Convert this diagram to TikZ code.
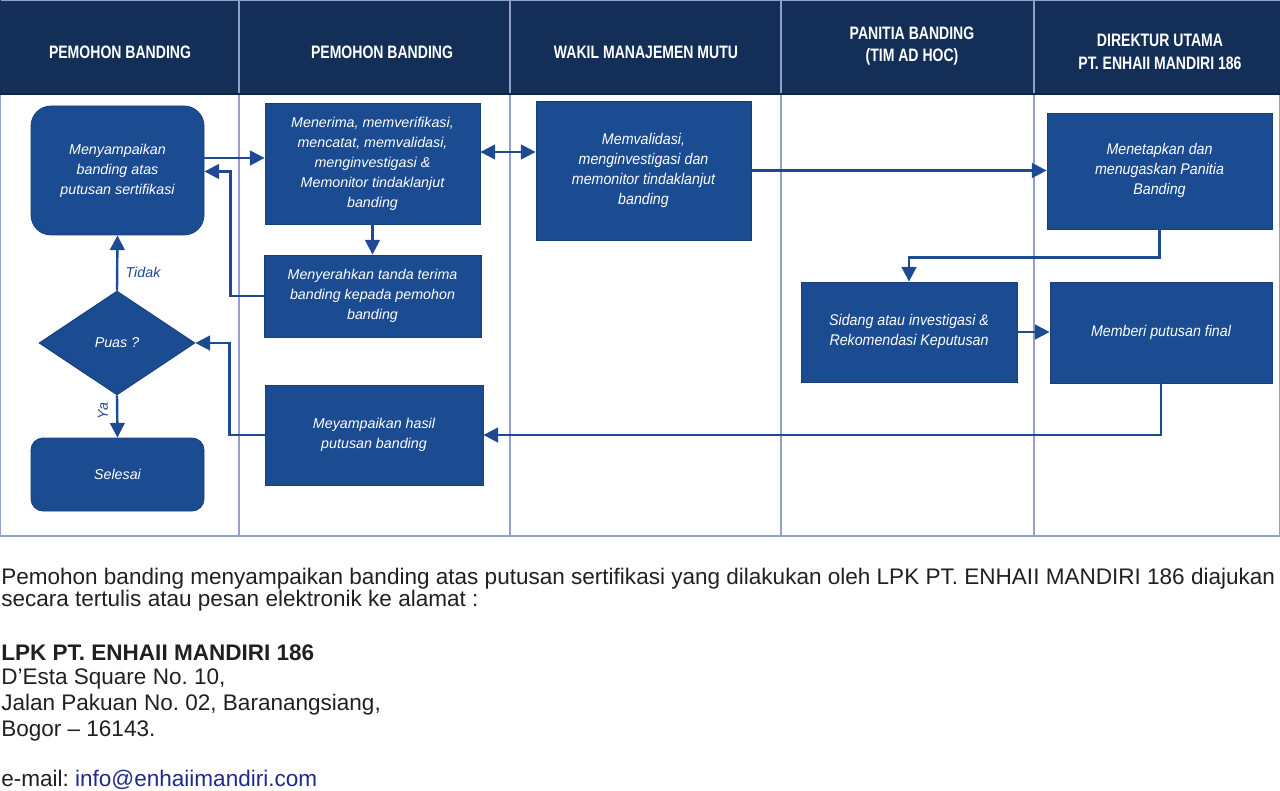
\documentclass[tikz,border=0pt]{standalone}
\usepackage{fontspec}
\setmainfont{Liberation Sans}
\newfontfamily\headfont{Liberation Sans}[FakeStretch=0.78]
\newfontfamily\condfont{Liberation Sans}[FakeStretch=0.92]
\usetikzlibrary{arrows.meta,shapes.geometric,calc}
\definecolor{hdr}{HTML}{132F57}
\definecolor{boxc}{HTML}{1B4B91}
\definecolor{linec}{HTML}{1D4A92}
\definecolor{lane}{HTML}{93A0CB}
\definecolor{txt}{HTML}{231F20}
\definecolor{mail}{HTML}{1E2A8C}
\frenchspacing
\begin{document}
\begin{tikzpicture}[x=0.75pt,y=-0.75pt,
  hd/.style={text=white,font=\headfont\bfseries\fontsize{13.5}{17}\selectfont,align=center,inner sep=0pt},
  proc/.style={fill=boxc,draw=boxc!85!black,line width=0.6pt,text=white,
     font=\itshape\fontsize{10.7}{15}\selectfont,align=center,inner sep=0pt},
  cproc/.style={proc,font=\condfont\itshape\fontsize{11.6}{15}\selectfont},
  rproc/.style={proc,rounded corners=15pt},
  arr/.style={draw=linec,line width=1.8pt,-{Triangle[length=11pt,width=11pt]}},
  dbl/.style={draw=linec,line width=1.8pt,{Triangle[length=11pt,width=11pt]}-{Triangle[length=11pt,width=11pt]}},
  lbl/.style={text=linec,font=\itshape\fontsize{10.7}{12}\selectfont,inner sep=0pt},
  foot/.style={text=txt,font=\fontsize{16.9}{18}\selectfont,anchor=base west,inner sep=0pt}]
\useasboundingbox (0,0) rectangle (1280,791);
% header
\fill[hdr] (0,0) rectangle (1280,94);
\draw[lane,line width=0.8pt] (0.5,0.5) -- (1279.5,0.5);
% lanes
\foreach \x in {239,510,781,1034} \draw[lane,line width=0.8pt] (\x,0) -- (\x,536);
\draw[lane,line width=1.2pt] (0.6,94) -- (0.6,536) -- (1279.4,536) -- (1279.4,94);
\draw[hdr!80!black,line width=1.2pt] (0,94) -- (1280,94);
\node[hd] (h1) at (120,52) {PEMOHON BANDING};
\node[hd] (h2) at (382,52) {PEMOHON BANDING};
\node[hd] (h3) at (646,52) {WAKIL MANAJEMEN MUTU};
\node[hd] (h4) at (912,46) {PANITIA BANDING\\(TIM AD HOC)};
\node[hd] (h5) at (1160,52) {DIREKTUR UTAMA\\PT. ENHAII MANDIRI 186};
% boxes
\node[rproc,minimum width=129.75pt,minimum height=96.75pt] (A) at (117.5,170.5) {Menyampaikan\\banding atas\\putusan sertifikasi};
\node[proc,minimum width=161.25pt,minimum height=90.75pt] (B) at (372.5,163.5) {Menerima, memverifikasi,\\mencatat, memvalidasi,\\menginvestigasi \&\\Memonitor tindaklanjut\\banding};
\node[proc,minimum width=162.75pt,minimum height=61.5pt] (C) at (372.5,296) {Menyerahkan tanda terima\\banding kepada pemohon\\banding};
\node[cproc,minimum width=161.25pt,minimum height=104.25pt] (D) at (643.5,170.5) {Memvalidasi,\\menginvestigasi dan\\memonitor tindaklanjut\\banding};
\node[cproc,minimum width=168.75pt,minimum height=87pt] (E) at (1159.5,171) {Menetapkan dan\\menugaskan Panitia\\Banding};
\node[cproc,minimum width=162pt,minimum height=75pt] (F) at (909,332) {Sidang atau investigasi \&\\Rekomendasi Keputusan};
\node[cproc,minimum width=166.5pt,minimum height=75.75pt] (G) at (1161,332.5) {Memberi putusan final};
\node[proc,minimum width=163.5pt,minimum height=75pt] (H) at (374,435) {Meyampaikan hasil\\putusan banding};
\node[proc,shape=diamond,aspect=1.5,minimum width=117pt,minimum height=78pt] (P) at (117,343) {Puas ?};
\node[proc,rounded corners=9pt,minimum width=129.75pt,minimum height=54.75pt] (S) at (117.5,474.5) {Selesai};
% connectors
\coordinate (a1) at ($(A.east)+(0,-12.5)$);
\draw[arr] (a1) -- (a1 -| B.west);
\draw[arr] (C.west) -- ++(-33,0) |- ($(A.east)+(0,1)$);
\draw[arr] (B.south) -- (C.north);
\coordinate (bd) at ($(B.east)+(0,-11.5)$);
\draw[dbl] (bd) -- (bd -| D.west);
\draw[arr] (D.east) -- (D.east -| E.west);
\draw[arr] (E.south) -- ++(0,28) -| (F.north);
\draw[arr] (F.east) -- (F.east -| G.west);
\draw[arr] (G.south) |- (H.east);
\draw[arr] (H.west) -- ++(-35,0) |- (P.east);
\draw[arr] (P.north) -- (A.south);
\draw[arr] (P.south) -- (S.north);
\node[lbl] (t1) at (143,272) {Tidak};
\node[lbl,rotate=90] (t2) at (103,411) {Ya};
% footer text
\node[foot] (f1) at (1,584) {Pemohon banding menyampaikan banding atas putusan sertifikasi yang dilakukan oleh LPK PT. ENHAII MANDIRI 186 diajukan};
\node[foot] (f2) at (1,606) {secara tertulis atau pesan elektronik ke alamat :};
\node[foot,font=\bfseries\fontsize{16.9}{18}\selectfont] (f3) at (1,660) {LPK PT. ENHAII MANDIRI 186};
\node[foot] (f4) at (1,684) {D’Esta Square No. 10,};
\node[foot] (f5) at (1,710) {Jalan Pakuan No. 02, Baranangsiang,};
\node[foot] (f6) at (1,736) {Bogor – 16143.};
\node[foot] (f7) at (1,786) {e-mail: \textcolor{mail}{info@enhaiimandiri.com}};
\end{tikzpicture}
\end{document}
